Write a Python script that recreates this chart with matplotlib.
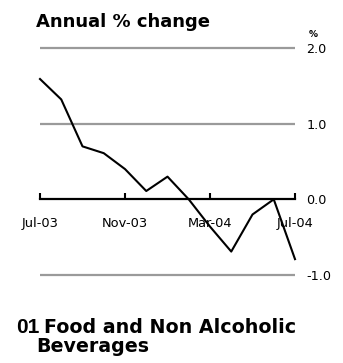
import matplotlib
matplotlib.use("Agg")
import matplotlib.pyplot as plt

plt.rcParams["font.family"] = ["DejaVu Sans"]

# Annual % change, Jul-03 .. Jul-04 (monthly)
months = ["Jul-03", "Aug-03", "Sep-03", "Oct-03", "Nov-03", "Dec-03", "Jan-04",
          "Feb-04", "Mar-04", "Apr-04", "May-04", "Jun-04", "Jul-04"]
values = [1.59, 1.32, 0.70, 0.61, 0.40, 0.11, 0.30, 0.0, -0.36, -0.69, -0.20, 0.0, -0.79]
tick_labels = ["Jul-03", "Nov-03", "Mar-04", "Jul-04"]
grid_levels = [2.0, 1.0, -1.0]
y_ticks = [2.0, 1.0, 0.0, -1.0]

W, H = 343, 363
fig = plt.figure(figsize=(W / 100, H / 100), dpi=100)

x0, x1 = 40, 295
ylo, yhi = -1.1, 2.1
py_top, py_bot = 40.4, 282.6
ax = fig.add_axes([x0 / W, 1 - py_bot / H, (x1 - x0) / W, (py_bot - py_top) / H])
ax.set_xlim(0, len(months) - 1)
ax.set_ylim(ylo, yhi)

for s in ["top", "right", "left"]:
    ax.spines[s].set_visible(False)
ax.spines["bottom"].set_position(("data", 0))
ax.spines["bottom"].set_linewidth(1.6)
ax.spines["bottom"].set_color("black")

for g in grid_levels:
    ax.axhline(g, color="#9a9a9a", lw=1.6, zorder=1)

xs = list(range(len(months)))
ax.plot(xs, values, color="black", lw=1.5, zorder=3, clip_on=False)

tick_pos = [months.index(t) for t in tick_labels]
ax.set_xticks(tick_pos)
ax.set_xticklabels(tick_labels, fontsize=9.4)
ax.tick_params(axis="x", direction="in", length=4, width=1.5, pad=12.5)

ax.yaxis.tick_right()
ax.set_yticks(y_ticks)
ax.set_yticklabels([f"{v:.1f}" for v in y_ticks], fontsize=9.2)
ax.tick_params(axis="y", length=0, pad=8)

fig.text(309 / W, 1 - 37 / H, "%", fontsize=6.5, fontweight="bold", ha="left", va="baseline")
fig.text(36 / W, 1 - 26.7 / H, "Annual % change", fontsize=13.0, fontweight="bold",
         ha="left", va="baseline")
fig.text(16 / W, 1 - 333 / H, "01", fontsize=15, fontweight="bold", ha="left", va="baseline",
         family=["Liberation Sans", "DejaVu Sans"])
fig.text(44 / W, 1 - 333 / H, "Food and Non Alcoholic", fontsize=13.7, fontweight="bold",
         ha="left", va="baseline")
fig.text(36 / W, 1 - 352 / H, "Beverages", fontsize=13.7, fontweight="bold",
         ha="left", va="baseline")

fig.savefig("out.png", dpi=100)
